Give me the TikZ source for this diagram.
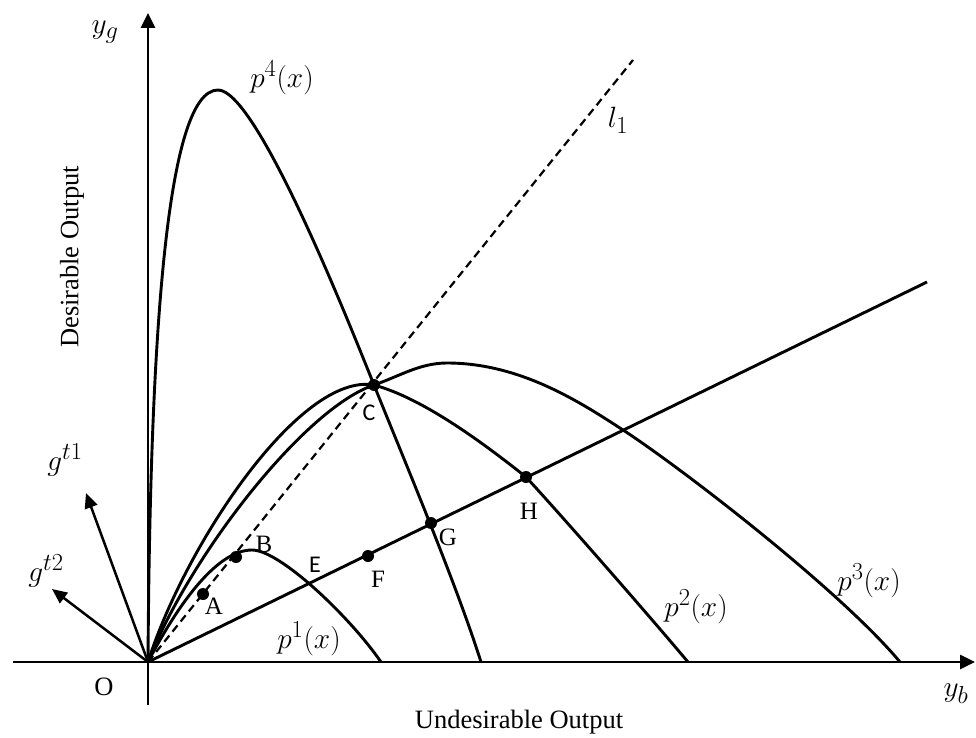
\documentclass[tikz,border=0pt]{standalone}
\usepackage{fontspec}
\setmainfont{Liberation Serif}
\newfontfamily\calfont{Carlito}
\usetikzlibrary{arrows.meta}
\newcommand{\mlb}[1]{\scalebox{1.18}{$#1$}}
\begin{document}
\begin{tikzpicture}[x=1pt,y=-1pt,
  axis/.style={line width=2.6pt,-{Triangle[length=15pt,width=14pt]}},
  vec/.style={line width=2.5pt,-{Triangle[length=15pt,width=13pt]}},
  curve/.style={line width=2.9pt,line join=round},
  dashline/.style={line width=2.2pt,dash pattern=on 8pt off 5pt},
  dot/.style={circle,fill=black,inner sep=0pt,minimum size=12pt},
  lab/.style={font=\fontsize{26.5}{30}\selectfont,inner sep=0pt},
  mlab/.style={font=\fontsize{24.88}{30}\selectfont,inner sep=0pt},
  plab/.style={font=\fontsize{25}{30}\selectfont,inner sep=0pt},
  slab/.style={font=\calfont\fontsize{24}{28}\selectfont,inner sep=0pt}]
\useasboundingbox (0,0) rectangle (976,738);
% key coordinates
\coordinate (O) at (148,662);
\coordinate (xs) at (13,662);
\coordinate (xe) at (975,662);
\coordinate (ys) at (148,705);
\coordinate (ye) at (148,13);
\coordinate (rayend) at (927,282);
\coordinate (lend) at (633,60);
\coordinate (gt1) at (86,493);
\coordinate (gt2) at (52,589);
\coordinate (pA) at (203,594);
\coordinate (pB) at (236,557);
\coordinate (pC) at (374,385);
\coordinate (pF) at (368,556);
\coordinate (pG) at (431,523);
\coordinate (pH) at (526,477);
\coordinate (top1) at (252,550);
\coordinate (top3) at (447,363);
\coordinate (top4) at (218,90);
\coordinate (mid3) at (623,430);
\coordinate (end1) at (381,662);
\coordinate (end2) at (688,662);
\coordinate (end3) at (900,662);
\coordinate (end4) at (481,662);
% axes
\draw[axis] (xs) -- (xe);
\draw[axis] (ys) -- (ye);
% direction vectors
\draw[vec] (O) -- (gt1);
\draw[vec] (O) -- (gt2);
% dashed line l1
\draw[dashline] (O) -- (lend);
% ray
\draw[curve] (O) -- (rayend);
% frontiers
\draw[curve] (O) .. controls (175,610) and (215,550) .. (top1)
  .. controls (280,550) and (350,617) .. (end1);
\draw[curve] (O) .. controls (185,545) and (300,372) .. (pC)
  .. controls (418,397) and (472,434) .. (pH)
  .. controls (560,514) and (640,605) .. (end2);
\draw[curve] (O) .. controls (190,555) and (305,408) .. (pC)
  .. controls (400,376) and (420,363) .. (top3)
  .. controls (520,363) and (580,402) .. (mid3)
  .. controls (680,467) and (840,590) .. (end3);
\draw[curve] (O) .. controls (150,350) and (165,90) .. (top4)
  .. controls (255,90) and (340,300) .. (pC)
  .. controls (400,450) and (455,580) .. (end4);
% dots
\node[dot] (A) at (pA) {};
\node[dot] (B) at (pB) {};
\node[dot] (C) at (pC) {};
\node[dot] (F) at (pF) {};
\node[dot] (G) at (pG) {};
\node[dot] (H) at (pH) {};
% point labels
\node[plab] (lA) at (214,606) {A};
\node[plab] (lB) at (264,544) {B};
\node[slab] (lC) at (369,413) {C};
\node[slab] (lE) at (315,565) {E};
\node[plab] (lF) at (378,579) {F};
\node[plab] (lG) at (448,537) {G};
\node[plab] (lH) at (529,511) {H};
\node[lab] (lO) at (104,687) {O};
% math labels
\node[mlab] (lyg) at (105,32) {\mlb{y_g}};
\node[mlab] (lyb) at (956,694) {\mlb{y_b}};
\node[mlab] (lp4) at (282,78) {\mlb{p^4(x)}};
\node[mlab] (lp1) at (309,639) {\mlb{p^1(x)}};
\node[mlab] (lp2) at (696,607) {\mlb{p^2(x)}};
\node[mlab] (lp3) at (869,581) {\mlb{p^3(x)}};
\node[mlab] (ll1) at (618,120) {\mlb{l_1}};
\node[mlab] (lg1) at (65,460) {\mlb{g^{t1}}};
\node[mlab] (lg2) at (46,571) {\mlb{g^{t2}}};
% axis titles
\node[lab,rotate=90] (ytitle) at (72,257) {Desirable Output};
\node[lab] (xtitle) at (519,722) {Undesirable Output};
\end{tikzpicture}
\end{document}
